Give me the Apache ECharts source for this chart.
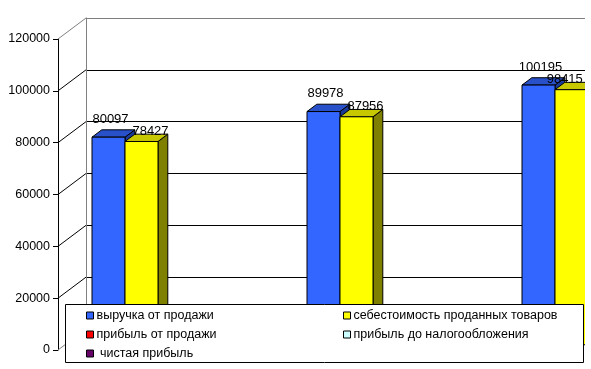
<!DOCTYPE html>
<html>
<head>
<meta charset="utf-8">
<script src="https://cdn.jsdelivr.net/npm/echarts@6/dist/echarts.min.js"></script>
<style>
html,body{margin:0;padding:0;background:#fff;}
#chart{width:591px;height:369px;}
</style>
</head>
<body>
<div id="chart"></div>
<script>
// ---- data ----
const categories = ['1', '2', '3'];
const seriesNames = ['выручка от продажи', 'себестоимость проданных товаров', 'прибыль от продажи', 'прибыль до налогообложения', ' чистая прибыль'];
const revenue = [80097, 89978, 100195];
const costOfGoods = [78427, 87956, 98415];
const profitSales = [0, 0, 0];
const profitBeforeTax = [0, 0, 0];
const netProfit = [0, 0, 0];
const yTicks = [0, 20000, 40000, 60000, 80000, 100000, 120000];

// ---- style ----
const allValues = [revenue, costOfGoods, profitSales, profitBeforeTax, netProfit];
const frontColors = ['#3366ff', '#ffff00', '#ff0000', '#ccffff', '#660066'];
const topColors = ['#2850c8', '#c8c800', '#c00000', '#a0d0d0', '#500050'];
const sideColors = ['#1a3a99', '#808000', '#800000', '#80a0a0', '#300030'];
const DX = 28, DY = 21;           // wall depth offset
const F1 = 0.25, F2 = 0.6;        // bar depth range
const BAND_PX = 215;              // width of one category band (plot extends past the right edge)
const FONT = 'Liberation Sans, Arial, sans-serif';
const labelOffsets = [[2, -18], [9, -10]];
const PLOT_RIGHT = 585;           // picture is cut here

const chart = echarts.init(document.getElementById('chart'), null, {renderer: 'canvas'});

function barRender(slot) {
  return function (params, api) {
    const v = api.value(1);
    if (!v) return null;
    const c = api.coord([api.value(0), v]);
    const b = api.coord([api.value(0), 0]);
    const band = api.size([1, 0])[0];
    const w = band * 0.1535;
    const left = c[0] - band / 2 + band * 0.1256 + slot * w;
    const fx = DX * F1, fy = DY * F1, bx = DX * F2, by = DY * F2;
    const x0 = left + fx, x1 = left + fx + w;
    const top = c[1] - fy, bot = b[1] - fy;
    const topB = c[1] - by, botB = b[1] - by;
    const xb0 = left + bx, xb1 = left + bx + w;
    const stroke = {stroke: '#000', lineWidth: 1};
    const children = [
      {type: 'polygon', shape: {points: [[x1, top], [xb1, topB], [xb1, botB], [x1, bot]]},
       style: Object.assign({fill: sideColors[slot]}, stroke)},
      {type: 'polygon', shape: {points: [[x0, top], [x1, top], [xb1, topB], [xb0, topB]]},
       style: Object.assign({fill: topColors[slot]}, stroke)},
      {type: 'rect', shape: {x: x0, y: top, width: w, height: bot - top},
       style: Object.assign({fill: frontColors[slot]}, stroke)}
    ];
    const off = labelOffsets[slot] || [0, -12];
    const txt = String(v);
    const tw = txt.length * 7.3;
    const lx = Math.min(x0 + w / 2 + off[0], PLOT_RIGHT - tw / 2 - 2);
    children.push({
      type: 'text', z2: 50,
      style: {text: txt, x: lx, y: top + off[1],
              align: 'center', verticalAlign: 'middle', fill: '#000', font: '13px ' + FONT}
    });
    return {type: 'group', children: children};
  };
}

const barSeries = allValues.map((vals, i) => ({
  name: seriesNames[i],
  type: 'custom',
  xAxisIndex: 0, yAxisIndex: 0,
  z: 5,
  clip: false,
  itemStyle: {color: frontColors[i], borderColor: '#000', borderWidth: 1},
  renderItem: barRender(i),
  encode: {x: 0, y: 1},
  data: vals.map((v, k) => [k, v, categories[k]])
}));

const diagSeries = {
  type: 'custom',
  xAxisIndex: 0, yAxisIndex: 0,
  z: 1,
  silent: true,
  clip: false,
  renderItem: function (params, api) {
    const v = api.value(1);
    const c = api.coord([-0.5, v]);
    const x = c[0];
    const gray = (v === yTicks[yTicks.length - 1] || v === 0);
    return {type: 'line', shape: {x1: x, y1: c[1], x2: x + DX, y2: c[1] - DY},
            style: {stroke: gray ? '#808080' : '#000', lineWidth: 1}};
  },
  encode: {x: 0, y: 1},
  data: yTicks.map(t => [-0.5, t])
};

const legendCommon = {
  orient: 'vertical',
  icon: 'rect',
  itemWidth: 7, itemHeight: 7,
  itemGap: 6,
  height: 60,
  padding: 0,
  z: 30,
  selectedMode: false,
  itemStyle: {borderColor: '#000', borderWidth: 1},
  textStyle: {fontFamily: FONT, fontSize: 12.5, lineHeight: 13, color: '#000', padding: [0, 0, 0, -2]}
};

const W = 591;
const frontLeft = 58, backLeft = 86;

chart.setOption({
  animation: false,
  backgroundColor: '#fff',
  grid: [
    {left: frontLeft, top: 39, right: W - PLOT_RIGHT, height: 311},
    {left: backLeft, top: 18, right: W - PLOT_RIGHT, height: 311}
  ],
  xAxis: [
    {type: 'value', gridIndex: 0, min: -0.5, max: -0.5 + (PLOT_RIGHT - frontLeft) / BAND_PX, show: false},
    {type: 'value', gridIndex: 1, min: -0.5, max: -0.5 + (PLOT_RIGHT - backLeft) / BAND_PX, show: false}
  ],
  yAxis: [
    {type: 'value', gridIndex: 0, min: 0, max: 120000, interval: 20000,
     axisLine: {show: true, onZero: false, lineStyle: {color: '#000', width: 1}},
     axisTick: {show: true, length: 5, lineStyle: {color: '#000'}},
     axisLabel: {fontFamily: FONT, fontSize: 12.5, color: '#000', margin: 8, formatter: v => String(v)},
     splitLine: {show: false}},
    {type: 'value', gridIndex: 1, min: 0, max: 120000, interval: 20000,
     axisLine: {show: true, onZero: false, lineStyle: {color: '#808080', width: 1}},
     axisTick: {show: false}, axisLabel: {show: false},
     splitLine: {show: true, lineStyle: {color: ['#000', '#000', '#000', '#000', '#000', '#000', '#808080'], width: 1}}}
  ],
  legend: [
    Object.assign({}, legendCommon, {left: 86, top: 309, data: [seriesNames[0], seriesNames[2], seriesNames[4]]}),
    Object.assign({}, legendCommon, {left: 343, top: 309, data: [seriesNames[1], seriesNames[3]]})
  ],
  graphic: [
    {type: 'rect', z: 20, shape: {x: 65.5, y: 304.5, width: 518, height: 58},
     style: {fill: '#fff', stroke: '#000', lineWidth: 1}},
    {type: 'rect', z: 25, shape: {x: PLOT_RIGHT, y: 0, width: W - PLOT_RIGHT, height: 369},
     style: {fill: '#fff'}}
  ],
  series: [diagSeries].concat(barSeries)
});
</script>
</body>
</html>
